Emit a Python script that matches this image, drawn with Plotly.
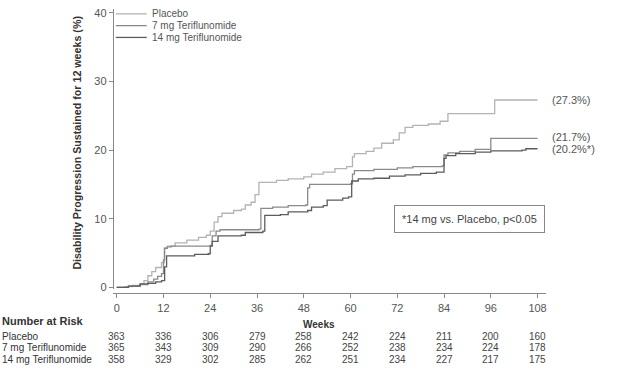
import plotly.graph_objects as go

# ---------------- data ----------------
placebo_wk = [0, 2, 4, 6, 7, 8, 9, 10, 11.5, 12.2, 13, 15, 18, 21, 23, 24, 25, 26, 27, 30, 32, 33, 34.5,
              35.5, 36.5, 41, 44, 48, 50, 53, 56, 59, 60.5, 61, 64, 66, 68, 71, 72.5, 74, 76, 80, 83, 85, 97, 108]
placebo_pct = [0, 0.1, 0.3, 0.5, 1.0, 1.7, 2.3, 2.9, 3.6, 5.7, 6.0, 6.5, 6.9, 7.3, 7.6, 8.2, 9.5, 10.3, 10.8, 11.2,
               11.4, 12.0, 12.4, 13.5, 15.3, 15.6, 15.8, 16.1, 16.5, 16.8, 17.3, 17.6, 19.0, 19.5, 19.8, 20.3, 21.0,
               21.5, 22.5, 23.3, 23.6, 23.8, 24.2, 25.3, 27.3, 27.3]

t7_wk = [0, 3, 6, 8, 9.5, 10.5, 11.5, 12, 12.3, 13, 14, 24, 24.5, 25.5, 26.5, 36.5, 37, 40, 44, 48.5, 49, 49.5,
         60, 60.5, 61, 66, 72, 76, 83.5, 84, 85, 88, 92, 96, 108]
t7_pct = [0, 0.2, 0.4, 0.8, 1.2, 1.6, 2.0, 4.0, 5.7, 5.9, 6.0, 6.1, 7.5, 8.2, 8.4, 8.5, 11.5, 11.7, 11.9, 12.0,
          14.5, 15.0, 15.1, 16.5, 17.0, 17.2, 17.4, 17.6, 17.7, 19.3, 19.6, 19.8, 20.1, 21.7, 21.7]

t14_wk = [0, 3, 6, 8, 10, 11.5, 12.3, 12.8, 20, 23.5, 24, 24.5, 26, 32, 33, 37.5, 38, 42, 44, 49, 50, 53, 54,
          58, 59.5, 60.3, 62, 66, 70, 74, 78, 82, 84, 84.5, 87, 92, 96, 104, 105, 108]
t14_pct = [0, 0.2, 0.5, 0.6, 0.8, 1.0, 3.0, 4.6, 4.8, 4.9, 6.0, 6.7, 7.5, 7.6, 8.0, 8.2, 10.5, 10.6, 11.0, 11.2,
           11.7, 11.9, 12.7, 13.0, 13.2, 15.5, 15.8, 15.9, 16.2, 16.4, 16.6, 16.8, 18.8, 19.2, 19.5, 19.7, 19.9,
           20.0, 20.2, 20.2]

series_names = ["Placebo", "7 mg Teriflunomide", "14 mg Teriflunomide"]
end_labels = ["(27.3%)", "(21.7%)", "(20.2%*)"]
end_label_y = [27.3, 21.9, 20.1]

x_ticks = [0, 12, 24, 36, 48, 60, 72, 84, 96, 108]
y_ticks = [0, 10, 20, 30, 40]

risk_placebo = [363, 336, 306, 279, 258, 242, 224, 211, 200, 160]
risk_7mg = [365, 343, 309, 290, 266, 252, 238, 234, 224, 178]
risk_14mg = [358, 329, 302, 285, 262, 251, 234, 227, 217, 175]

# ---------------- figure ----------------
W, H = 630, 380
colors = ["#b3b3b3", "#8a8a8a", "#5c5c5c"]
FONT = "Liberation Sans, Arial, sans-serif"
FS = 11
FT = 10  # table font

def px_x(p):
    return p / W

def px_y(p):
    return 1 - p / H

fig = go.Figure()
for wk, pct, name, col in zip([placebo_wk, t7_wk, t14_wk], [placebo_pct, t7_pct, t14_pct], series_names, colors):
    fig.add_trace(go.Scatter(x=wk, y=pct, mode="lines", line=dict(shape="hv", color=col, width=1.3),
                             name=name, showlegend=False, hoverinfo="skip"))

ann = []
shapes = []

# manual legend
leg_y = [12, 24, 36]
for name, col, yy in zip(series_names, colors, leg_y):
    shapes.append(dict(type="line", xref="paper", yref="paper", x0=px_x(116), x1=px_x(147),
                       y0=px_y(yy), y1=px_y(yy), line=dict(color=col, width=1.3)))
    ann.append(dict(text=name, xref="paper", yref="paper", x=px_x(150), y=px_y(yy), xanchor="left",
                    yanchor="middle", showarrow=False, font=dict(size=FT, color="#555", family=FONT)))

# end labels
for lab, yv in zip(end_labels, end_label_y):
    ann.append(dict(text=lab, xref="paper", yref="y", x=px_x(551), y=yv, xanchor="left", yanchor="middle",
                    showarrow=False, font=dict(size=FS, color="#555", family=FONT)))

# p-value box
ann.append(dict(text="*14 mg vs. Placebo, p<0.05", xref="paper", yref="paper", x=px_x(470), y=px_y(220),
                xanchor="center", yanchor="middle", showarrow=False, borderwidth=1, bordercolor="#888",
                borderpad=7, bgcolor="white", font=dict(size=FS, color="#444", family=FONT)))

# y title
ann.append(dict(text="<b>Disability Progression Sustained for 12 weeks (%)</b>", xref="paper", yref="paper",
                x=px_x(77), y=px_y(143), textangle=-90, xanchor="center", yanchor="middle", showarrow=False,
                font=dict(size=10.7, color="#333", family=FONT)))

# Weeks label
ann.append(dict(text="<b>Weeks</b>", xref="paper", yref="paper", x=px_x(320), y=px_y(328), xanchor="center",
                yanchor="middle", showarrow=False, font=dict(size=FT, color="#333", family=FONT)))

# Number at risk
ann.append(dict(text="<b>Number at Risk</b>", xref="paper", yref="paper", x=px_x(0), y=px_y(324),
                xanchor="left", yanchor="middle", showarrow=False, font=dict(size=FS, color="#333", family=FONT)))
row_y = [340, 351.5, 363]
for name, vals, ry in zip(series_names, [risk_placebo, risk_7mg, risk_14mg], row_y):
    ann.append(dict(text=name, xref="paper", yref="paper", x=px_x(0), y=px_y(ry), xanchor="left",
                    yanchor="middle", showarrow=False, font=dict(size=FT, color="#333", family=FONT)))
    for wk, v in zip(x_ticks, vals):
        ann.append(dict(text=str(v), xref="x", yref="paper", x=wk, y=px_y(ry), xanchor="center",
                        yanchor="middle", showarrow=False, font=dict(size=FT, color="#444", family=FONT)))

fig.update_layout(
    width=W, height=H,
    margin=dict(l=0, r=0, t=0, b=0),
    paper_bgcolor="white", plot_bgcolor="white",
    font=dict(family=FONT, size=FS, color="#555"),
    xaxis=dict(domain=[px_x(113), px_x(547)], range=[-1, 110.2], anchor="free", position=px_y(296),
               tickvals=x_ticks, ticks="outside", ticklen=4, tickcolor="#888", showline=True,
               linecolor="#888", linewidth=1, showgrid=False, zeroline=False,
               tickfont=dict(size=FS, color="#555")),
    yaxis=dict(domain=[px_y(292), px_y(7)], range=[-0.29, 40.57], anchor="free", position=px_x(113),
               tickvals=y_ticks, ticks="outside", ticklen=4, tickcolor="#888", showline=True,
               linecolor="#888", linewidth=1, showgrid=False, zeroline=False,
               tickfont=dict(size=FS, color="#555")),
    annotations=ann, shapes=shapes, showlegend=False,
)

fig.write_html("out.html", config={"displayModeBar": False},
               post_script="document.body.style.margin='0';document.body.style.overflow='hidden';")
